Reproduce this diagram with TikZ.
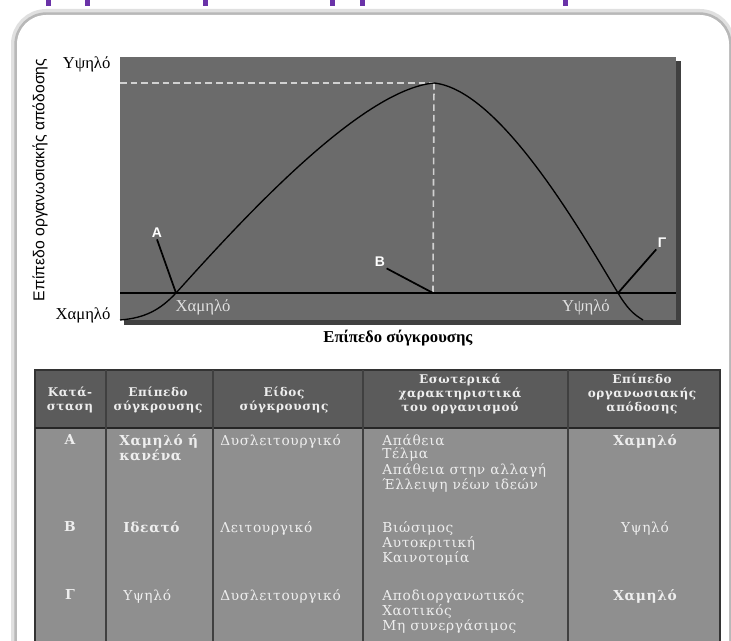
\documentclass[tikz,border=0pt]{standalone}
\usepackage{fontspec}
\setmainfont{Liberation Serif}
\newfontfamily\tabfont[LetterSpace=5]{DejaVu Serif}
\newfontfamily\axisfont{Liberation Sans}
\usepackage{tikz}
\usetikzlibrary{calc}
\definecolor{chartgray}{HTML}{6B6B6B}
\definecolor{headgray}{HTML}{5B5B5B}
\definecolor{bodygray}{HTML}{8F8F8F}
\definecolor{titlepurple}{HTML}{6A32A8}
\definecolor{paletext}{HTML}{EEEEEE}
\tikzset{
  pointer/.style={black, line width=1.3},
  guide/.style={white!82!black, line width=1.2, dash pattern=on 5 off 3},
  statelbl/.style={text=white, font=\axisfont\fontsize{10.5}{12}\selectfont\bfseries, inner sep=1},
  axislbl/.style={font=\fontsize{12.5}{14}\selectfont, inner sep=1},
  inlbl/.style={text=white!88!black, font=\fontsize{12.5}{14}\selectfont, inner sep=1},
  headtxt/.style={text=paletext, align=center, font=\tabfont\fontsize{9}{10.6}\selectfont\bfseries, inner sep=0},
  celltxt/.style={text=paletext, align=left, anchor=north west, font=\tabfont\fontsize{10.3}{10.3}\selectfont, inner sep=0},
  cellbold/.style={celltxt, font=\tabfont\fontsize{10.3}{10.3}\selectfont\bfseries},
}

\begin{document}
\begin{tikzpicture}[x=0.75pt, y=-0.75pt]
\useasboundingbox (0,0) rectangle (731,641);
\fill[white] (0,0) rectangle (731,641);
\foreach \x in {48,87,205,332,362,565} {
 \fill[titlepurple] (\x-2.5,0) rectangle (\x+2.5,6);
}
\begin{scope}
\clip (0,0) rectangle (731,641);
\draw[black!12, line width=9, rounded corners=22] (17,700) -- (17,15) -- (729,15) -- (729,700);
\draw[black!28, line width=4, rounded corners=22] (17,700) -- (17,15) -- (729,15) -- (729,700);
\fill[white, rounded corners=22] (17,700) -- (17,15) -- (729,15) -- (729,700) -- cycle;
\end{scope}

\fill[black!75] (124,61) rectangle (681,325);
\fill[chartgray] (120,57) rectangle (676,320);
\coordinate (peak) at (434,83);
\coordinate (ptA) at (176,293);
\coordinate (ptB) at (433,293);
\coordinate (ptG) at (618,293);
\draw[guide] (120,83) -- (peak);
\draw[guide] (peak) -- (ptB);
\draw[black, line width=1.8] (120,293) -- (676,293);
\draw[black, line width=1] (120,320) .. controls (145,318) and (160,310) .. (ptA)
  .. controls (240,222) and (360,90) .. (peak)
  .. controls (500,90) and (580,230) .. (ptG)
  .. controls (627,308) and (633,314) .. (643,320);
\node[statelbl] (labA) at (157,233) {A};
\node[statelbl] (labB) at (380,262) {B};
\node[statelbl] (labG) at (662,243) {Γ};
\draw[pointer] (labA.south) -- (ptA);
\draw[pointer] (labB.south east) -- (ptB);
\draw[pointer] (labG.south west) -- (ptG);
\node[inlbl] (lowin) at (203,307) {Χαμηλό};
\node[inlbl] (highin) at (586,307) {Υψηλό};
\node[axislbl, anchor=east] (ytop) at (112,64) {Υψηλό};
\node[axislbl, anchor=east] (ybot) at (112,315) {Χαμηλό};
\node[rotate=90, font=\axisfont\fontsize{11.8}{13}\selectfont] (ytitle) at (40,180) {Επίπεδο οργανωσιακής απόδοσης};
\node[font=\fontsize{12.5}{14}\selectfont\bfseries] (xtitle) at (398,338) {Επίπεδο σύγκρουσης};

\fill[headgray] (35,370) rectangle (720,428);
\fill[bodygray] (35,428) rectangle (720,660);
\draw[black!80, line width=1.5] (35,660) -- (35,370) -- (720,370) -- (720,660);
\draw[black!85, line width=1.5] (35,428) -- (720,428);
\foreach \x in {106,213,363,568} {
 \draw[black!75, line width=1.3] (\x,370) -- (\x,660);
}
\node[headtxt] (hstate) at (70,400) {Κατά-\\σταση};
\node[headtxt] (hlevel) at (158,400) {Επίπεδο\\σύγκρουσης};
\node[headtxt] (hkind) at (284,400) {Είδος\\σύγκρουσης};
\node[headtxt] (hinner) at (460,394) {Εσωτερικά\\χαρακτηριστικά\\του οργανισμού};
\node[headtxt] (hperf) at (642,394) {Επίπεδο\\οργανωσιακής\\απόδοσης};

\node[cellbold, anchor=north] (sA) at (70,434) {A};
\node[cellbold] (lvA) at (119,434) {Χαμηλό ή\\κανένα};
\node[celltxt] (kdA) at (220,434) {Δυσλειτουργικό};
\node[celltxt] (inA) at (382,434) {Απάθεια\\Τέλμα\\Απάθεια στην αλλαγή\\Έλλειψη νέων ιδεών};
\node[cellbold, anchor=north] (pfA) at (645,434) {Χαμηλό};

\node[cellbold, anchor=north] (sB) at (70,521) {B};
\node[cellbold] (lvB) at (123,521) {Ιδεατό};
\node[celltxt] (kdB) at (220,521) {Λειτουργικό};
\node[celltxt] (inB) at (382,521) {Βιώσιμος\\Αυτοκριτική\\Καινοτομία};
\node[celltxt, anchor=north] (pfB) at (645,521) {Υψηλό};

\node[cellbold, anchor=north] (sG) at (70,589) {Γ};
\node[celltxt] (lvG) at (123,589) {Υψηλό};
\node[celltxt] (kdG) at (220,589) {Δυσλειτουργικό};
\node[celltxt] (inG) at (382,589) {Αποδιοργανωτικός\\Χαοτικός\\Μη συνεργάσιμος};
\node[cellbold, anchor=north] (pfG) at (645,589) {Χαμηλό};
\end{tikzpicture}
\end{document}
